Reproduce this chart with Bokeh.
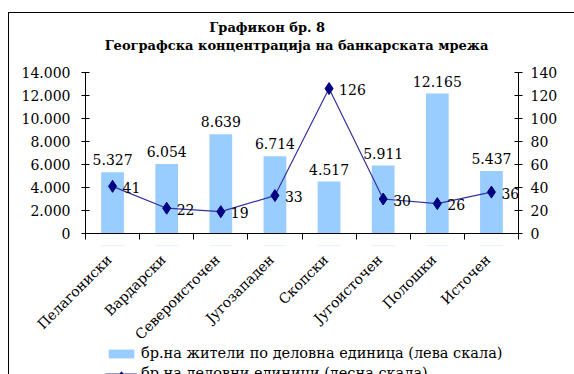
from bokeh.plotting import figure
from bokeh.layouts import column
from bokeh.models import (Range1d, LinearAxis, FixedTicker, ColumnDataSource,
                          Legend, LegendItem)
from bokeh.core.properties import value
from bokeh.embed import file_html
from bokeh.resources import INLINE

categories = ["Пелагониски", "Вардарски", "Североисточен", "Југозападен",
              "Скопски", "Југоисточен", "Полошки", "Источен"]
residents = [5327, 6054, 8639, 6714, 4517, 5911, 12165, 5437]
units = [41, 22, 19, 33, 126, 30, 26, 36]
left_ticks = [0, 2000, 4000, 6000, 8000, 10000, 12000, 14000]
left_tick_labels = ["0", "2.000", "4.000", "6.000", "8.000", "10.000", "12.000", "14.000"]
right_ticks = [0, 20, 40, 60, 80, 100, 120, 140]
title1 = "Графикон бр.  8"
title2 = "Географска концентрација на банкарската мрежа"
legend_bars = "бр.на жители по деловна единица (лева скала)"
legend_line = "бр.на деловни единици (десна скала)"

FONT = "DejaVu Serif"
BAR_COLOR = "#99CCFF"
LINE_COLOR = "#3333A0"
MARK_COLOR = "#000080"
W = 574
TOP_H, MAIN_H = 56, 189
BOT_H = 374 - TOP_H - MAIN_H
FRAME_L, FRAME_R = 85, 518
N = len(categories)
UNIT = (FRAME_R - FRAME_L) / N  # pixels per category

xs = [i + 0.5 for i in range(N)]
label_shift = 0.17  # horizontal nudge of rotated category labels (style)
src = ColumnDataSource(dict(
    x=xs, res=residents, units=units, cat=categories,
    lx=[x - label_shift for x in xs],
    res_lbl=[f"{v:,}".replace(",", ".") for v in residents],
    unit_lbl=[str(v) for v in units],
))

def bare(fig):
    fig.axis.visible = False
    fig.grid.visible = False
    fig.outline_line_color = None
    fig.background_fill_alpha = 0
    fig.border_fill_alpha = 0
    fig.min_border = 0
    fig.frame_align = False

# strips span the whole width in the same category units as the chart
strip_x = Range1d(-FRAME_L / UNIT, (W - FRAME_L) / UNIT)

# ---- title strip (x in pixels of the page)
top = figure(width=W, height=TOP_H, output_backend="svg", toolbar_location=None,
             x_range=Range1d(0, W), y_range=Range1d(TOP_H, 0))
bare(top)
top.text(x=[269, 296], y=[27, 45], text=[title1, title2],
         text_font=value(FONT), text_font_size="13px", text_font_style="bold",
         text_align="center", text_baseline="middle", text_color="black")

# ---- main chart
p = figure(width=W, height=MAIN_H, output_backend="svg", toolbar_location=None,
           x_range=Range1d(0, N), y_range=Range1d(0, 14000),
           min_border_left=FRAME_L, min_border_right=W - FRAME_R, min_border_top=16,
           min_border_bottom=MAIN_H - 16 - 161)
p.frame_align = False
p.extra_y_ranges = {"right": Range1d(0, 140)}
p.xgrid.visible = False
p.ygrid.visible = False
p.outline_line_color = None
p.background_fill_color = "white"
p.border_fill_alpha = 0

bars = p.vbar(x="x", top="res", width=0.42, source=src, fill_color=BAR_COLOR, line_color=None)
ln = p.line(x="x", y="units", source=src, y_range_name="right", line_color=LINE_COLOR, line_width=1.2)
mk = p.scatter(x="x", y="units", source=src, y_range_name="right", marker="diamond",
               size=12, fill_color=MARK_COLOR, line_color=MARK_COLOR)

p.text(x="x", y="res", text="res_lbl", source=src, text_font=value(FONT), text_font_size="14px",
       text_align="center", text_baseline="bottom", y_offset=-7, text_color="black")
p.text(x="x", y="units", text="unit_lbl", source=src, y_range_name="right", text_font=value(FONT),
       text_font_size="14px", text_align="left", text_baseline="middle", x_offset=10, y_offset=1,
       text_color="black")

xa = p.xaxis[0]
xa.ticker = FixedTicker(ticks=[], minor_ticks=list(range(N + 1)))
xa.major_tick_line_color = None
xa.minor_tick_in = 0
xa.minor_tick_out = 6
xa.minor_tick_line_color = "black"
xa.axis_line_color = "black"

ya = p.yaxis[0]
ya.ticker = FixedTicker(ticks=left_ticks, minor_ticks=[])
ya.major_label_overrides = {t: l for t, l in zip(left_ticks, left_tick_labels)}
ya.major_tick_in = 4
ya.major_tick_out = 4
ya.minor_tick_line_color = None
ya.axis_line_color = "black"
ya.major_tick_line_color = "black"
ya.major_label_text_font = FONT
ya.major_label_text_font_size = "14px"
ya.major_label_text_color = "black"
ya.major_label_standoff = 11

ra = LinearAxis(y_range_name="right", ticker=FixedTicker(ticks=right_ticks, minor_ticks=[]))
ra.major_tick_in = 4
ra.major_tick_out = 4
ra.minor_tick_line_color = None
ra.axis_line_color = "black"
ra.major_tick_line_color = "black"
ra.major_label_text_font = FONT
ra.major_label_text_font_size = "14px"
ra.major_label_text_color = "black"
ra.major_label_standoff = 8
p.add_layout(ra, "right")

# ---- category labels + legend strip (same category units; y in pixels from strip top)
bot = figure(width=W, height=BOT_H, output_backend="svg", toolbar_location=None,
             x_range=strip_x, y_range=Range1d(BOT_H, 0))
bare(bot)
bot.extra_y_ranges = {"off": Range1d(-2, -1)}
bot.text(x="lx", y=6, text="cat", source=src, angle=0.785398, text_font=value(FONT),
         text_font_size="14px", text_align="right", text_baseline="top", text_color="black")
lb = bot.vbar(x="x", top="res", width=0.42, source=src, y_range_name="off",
              fill_color=BAR_COLOR, line_color=None)
ll = bot.line(x="x", y="units", source=src, y_range_name="off", line_color=LINE_COLOR, line_width=1.2)
lm = bot.scatter(x="x", y="units", source=src, y_range_name="off", marker="diamond", size=12,
                 fill_color=MARK_COLOR, line_color=MARK_COLOR)
legend = Legend(items=[LegendItem(label=legend_bars, renderers=[lb]),
                       LegendItem(label=legend_line, renderers=[ll, lm])],
                orientation="vertical", location=(105, -7),
                label_text_font=FONT, label_text_font_size="14.5px", label_text_color="black",
                glyph_width=32, glyph_height=11, label_height=16, spacing=4, label_standoff=4,
                padding=0, margin=0, border_line_color=None, background_fill_alpha=0)
bot.add_layout(legend)

layout = column(top, p, bot, spacing=0)
layout.styles = {
    "background": "linear-gradient(#000, #000) 8px 12px / 1px 400px no-repeat, "
                  "linear-gradient(#000, #000) 8px 12px / 700px 1px no-repeat, #fff",
}

open("out.html", "w").write(file_html(layout, INLINE))
